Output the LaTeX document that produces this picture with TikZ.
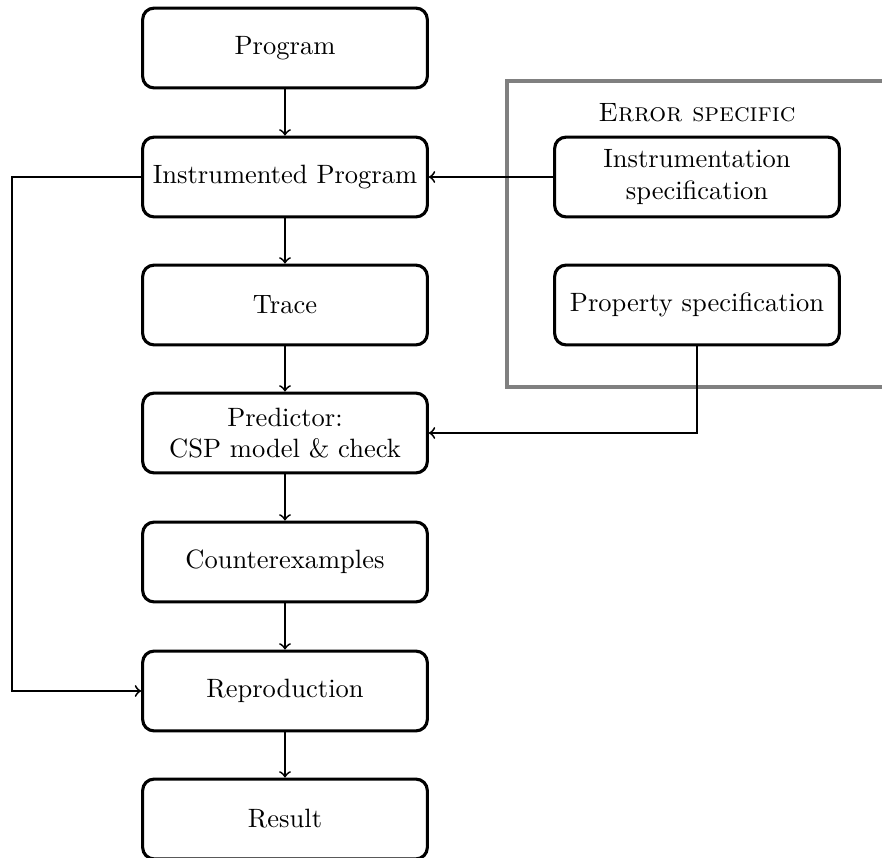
\documentclass[tikz,border=0pt]{standalone}
\usetikzlibrary{positioning}
\begin{document}
\begin{tikzpicture}[x=0.3772pt,y=-0.3772pt,
  stage/.style={draw,line width=1.17pt,rounded corners=4.3pt,minimum width=107.4pt,
    minimum height=30.1pt,align=center,inner sep=2pt},
  flow/.style={->,line width=0.69pt},
  frame/.style={draw=gray,line width=1.17pt}]
\useasboundingbox (0,0) rectangle (882,858);
\clip (0,0) rectangle (882,858);

% main pipeline
\node[stage] (prog)  at (285,48)  {Program};
\node[stage] (instr) at (285,177) {Instrumented Program};
\node[stage] (trace) at (285,305) {Trace};
\node[stage] (pred)  at (285,433) {Predictor:\\CSP model \& check};
\node[stage] (cex)   at (285,562) {Counterexamples};
\node[stage] (repr)  at (285,691) {Reproduction};
\node[stage] (res)   at (285,819) {Result};

% error-specific inputs
\draw[frame] (507,81) rectangle (900,387);
\node (errlbl) at (697,113) {\textsc{Error specific}};
\node[stage] (ispec) at (697,177) {Instrumentation\\specification};
\node[stage] (pspec) at (697,305) {Property specification};

\draw[flow] (prog) -- (instr);
\draw[flow] (instr) -- (trace);
\draw[flow] (trace) -- (pred);
\draw[flow] (pred) -- (cex);
\draw[flow] (cex) -- (repr);
\draw[flow] (repr) -- (res);

\draw[flow] (ispec) -- (instr);
\draw[flow] (pspec.south) |- (pred.east);
\coordinate (loopx) at (12,0);
\draw[flow] (instr.west) -- (instr.west -| loopx) |- (repr.west);
\end{tikzpicture}
\end{document}
